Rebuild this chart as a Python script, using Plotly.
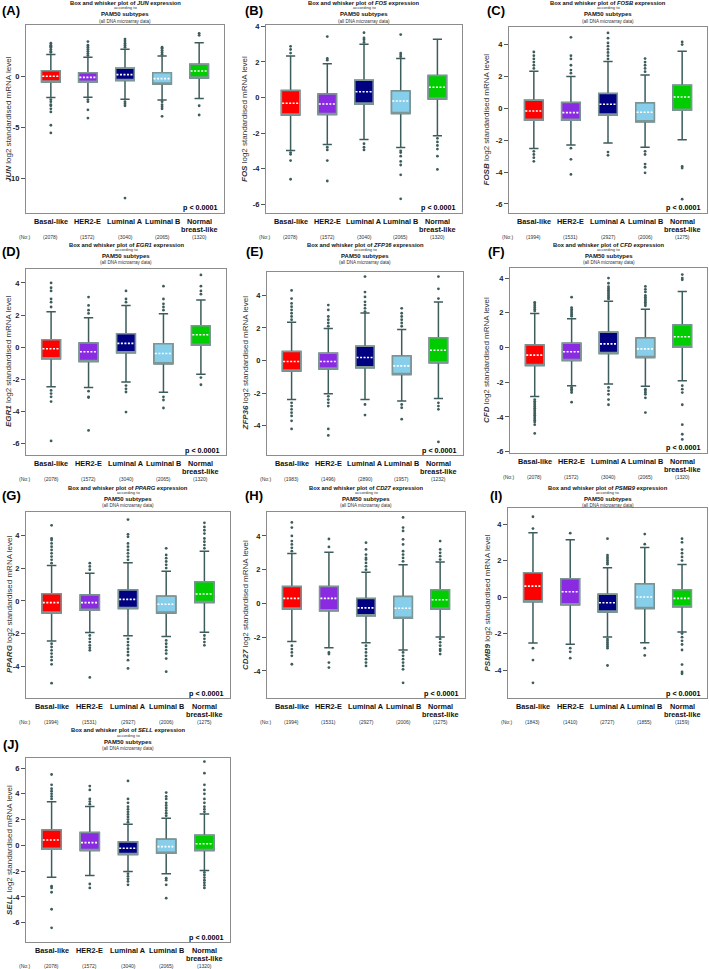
import plotly.graph_objects as go

# ---------------- data ----------------
categories = ["Basal-like", "HER2-E", "Luminal A", "Luminal B", "Normal<br>breast-like"]
genes = ["JUN", "FOS", "FOSB", "EGR1", "ZFP36", "CFD", "PPARG", "CD27", "PSMB9", "SELL"]
panel_letters = ["(A)", "(B)", "(C)", "(D)", "(E)", "(F)", "(G)", "(H)", "(I)", "(J)"]
p_values = ["p < 0.0001"] * 10

counts = {
    "JUN": [2078, 1572, 3040, 2065, 1320],
    "FOS": [2078, 1572, 3040, 2065, 1320],
    "FOSB": [1994, 1531, 2927, 2006, 1275],
    "EGR1": [2078, 1572, 3040, 2065, 1320],
    "ZFP36": [1983, 1496, 2890, 1957, 1232],
    "CFD": [2078, 1572, 3040, 2065, 1320],
    "PPARG": [1994, 1531, 2927, 2006, 1275],
    "CD27": [1994, 1531, 2927, 2006, 1275],
    "PSMB9": [1843, 1410, 2727, 1855, 1159],
    "SELL": [2078, 1572, 3040, 2065, 1320],
}

q1 = {
    "JUN": [-0.58, -0.62, -0.45, -0.78, -0.19],
    "FOS": [-0.99, -0.95, -0.37, -0.90, -0.09],
    "FOSB": [-0.75, -0.75, -0.42, -0.84, -0.13],
    "EGR1": [-0.73, -0.90, -0.35, -1.04, 0.12],
    "ZFP36": [-0.65, -0.53, -0.45, -0.86, -0.14],
    "CFD": [-1.04, -0.75, -0.35, -0.58, 0.02],
    "PPARG": [-0.73, -0.57, -0.46, -0.73, -0.10],
    "CD27": [-0.32, -0.43, -0.73, -0.87, -0.33],
    "PSMB9": [-0.26, -0.42, -0.82, -0.62, -0.53],
    "SELL": [-0.31, -0.39, -0.70, -0.62, -0.39],
}
median = {
    "JUN": [-0.03, -0.13, 0.13, -0.26, 0.49],
    "FOS": [-0.32, -0.37, 0.32, -0.20, 0.58],
    "FOSB": [-0.17, -0.27, 0.25, -0.25, 0.71],
    "EGR1": [-0.10, -0.29, 0.23, -0.40, 0.77],
    "ZFP36": [-0.06, -0.06, 0.18, -0.33, 0.63],
    "CFD": [-0.44, -0.25, 0.21, -0.08, 0.62],
    "PPARG": [-0.10, -0.10, 0.10, -0.20, 0.42],
    "CD27": [0.30, 0.30, -0.26, -0.28, 0.22],
    "PSMB9": [0.60, 0.29, -0.31, 0.00, -0.07],
    "SELL": [0.42, 0.21, -0.23, -0.10, 0.13],
}
q3 = {
    "JUN": [0.52, 0.32, 0.75, 0.32, 1.14],
    "FOS": [0.39, 0.20, 0.97, 0.37, 1.24],
    "FOSB": [0.50, 0.36, 0.92, 0.33, 1.44],
    "EGR1": [0.46, 0.25, 0.83, 0.21, 1.33],
    "ZFP36": [0.55, 0.45, 0.88, 0.27, 1.39],
    "CFD": [0.15, 0.25, 0.88, 0.54, 1.29],
    "PPARG": [0.44, 0.36, 0.67, 0.28, 1.17],
    "CD27": [1.00, 1.00, 0.30, 0.41, 0.81],
    "PSMB9": [1.33, 1.00, 0.16, 0.71, 0.40],
    "SELL": [1.19, 0.99, 0.26, 0.47, 0.78],
}
lower_whisker = {
    "JUN": [-2.10, -2.08, -2.27, -2.34, -2.20],
    "FOS": [-2.98, -2.64, -2.36, -2.81, -2.15],
    "FOSB": [-2.53, -2.30, -2.18, -2.45, -1.97],
    "EGR1": [-2.48, -2.52, -2.17, -2.81, -1.69],
    "ZFP36": [-2.39, -2.04, -2.39, -2.49, -2.33],
    "CFD": [-2.83, -2.21, -2.10, -2.23, -1.92],
    "PPARG": [-2.44, -1.92, -2.12, -2.16, -1.90],
    "CD27": [-2.25, -2.62, -2.33, -2.76, -1.99],
    "PSMB9": [-2.52, -2.59, -2.19, -2.50, -1.92],
    "SELL": [-2.47, -2.34, -2.03, -2.20, -1.95],
}
upper_whisker = {
    "JUN": [2.10, 1.82, 2.60, 1.95, 3.25],
    "FOS": [2.34, 1.90, 3.00, 2.19, 3.28],
    "FOSB": [2.32, 2.00, 2.93, 2.09, 3.58],
    "EGR1": [2.20, 1.83, 2.60, 2.08, 2.94],
    "ZFP36": [2.35, 1.96, 2.92, 1.90, 3.59],
    "CFD": [1.96, 1.65, 2.67, 2.20, 3.23],
    "PPARG": [2.16, 1.68, 2.32, 1.80, 3.03],
    "CD27": [2.96, 3.03, 1.85, 2.29, 2.46],
    "PSMB9": [3.53, 3.14, 1.61, 2.72, 1.79],
    "SELL": [3.38, 3.01, 1.64, 2.10, 2.44],
}
outliers = {
    "JUN": [
        [2.3, 2.4, 2.6, 2.8, 2.9, 3.0, 3.2, -2.3, -2.5, -2.8, -2.9, -3.2, -3.5, -4.8, -5.55],
        [2.0, 2.2, 2.4, 2.6, 2.8, 3.0, 3.35, -2.3, -2.5, -3.3, -4.1],
        [2.8, 3.0, 3.2, 3.4, 3.6, -2.5, -2.7, -2.9, -11.9],
        [2.1, 2.3, 2.5, 2.7, 2.8, -2.5, -2.8, -3.0, -3.2, -3.93],
        [3.96, 4.16, -2.9, -3.8],
    ],
    "FOS": [
        [2.5, 2.7, 2.88, -3.1, -3.2, -3.55, -4.6],
        [2.1, 2.2, 3.43, -2.8, -2.95, -3.55, -4.7],
        [3.1, 3.25, 3.35, 3.65, -2.6, -2.8, -2.95],
        [2.3, 2.4, 2.5, 3.54, -3.0, -3.1, -3.3, -3.6, -3.8, -4.35, -5.7],
        [-2.3, -2.5, -2.7, -2.9, -3.3, -4.05],
    ],
    "FOSB": [
        [2.5, 2.7, 2.9, 3.1, 3.3, 3.53, -2.7, -2.9, -3.1, -3.33],
        [2.2, 2.4, 2.7, 3.1, 3.3, 4.45, -2.5, -3.2, -4.15],
        [3.1, 3.3, 3.5, 3.7, 3.9, 4.1, 4.4, 4.73, -2.75, -2.95],
        [2.3, 2.5, 2.7, 2.9, 3.12, -2.7, -2.9, -3.5, -3.7, -4.05],
        [4.0, 4.16, -3.65, -3.75, -5.7],
    ],
    "EGR1": [
        [2.5, 2.8, 3.0, 3.5, 3.7, 4.0, -2.7, -2.9, -3.1, -3.4, -5.85],
        [2.1, 2.3, 2.6, 3.12, -2.75, -3.1, -3.15, -5.2],
        [2.8, 3.0, 3.5, -2.4, -2.6, -2.8, -4.05],
        [2.3, 2.5, 2.7, 3.0, 3.8, -3.1, -3.3, -3.8],
        [3.3, 3.5, 3.8, 4.5, -1.9, -2.35],
    ],
    "ZFP36": [
        [2.5, 2.7, 2.9, 3.1, 3.3, 3.5, 3.8, 4.3, -2.6, -2.8, -3.0, -3.2, -3.4, -3.7, -4.2],
        [2.1, 2.3, 2.5, 2.7, 3.1, 3.4, -2.2, -2.4, -2.6, -2.8, -4.2, -4.6],
        [3.0, 3.2, 3.4, 3.6, 3.9, 4.2, 5.15, -2.7, -3.35],
        [2.1, 2.3, 2.5, 2.7, 2.9, 3.2, -2.7, -2.9, -3.6],
        [3.8, 4.4, 5.15, -2.6, -2.8, -3.0, -5.0],
    ],
    "CFD": [
        [2.1, 2.2, 2.3, 2.4, 2.5, 2.6, -3.0, -3.1, -3.2, -3.3, -3.4, -3.5, -3.6, -3.7,
         -3.8, -3.9, -4.0, -4.1, -4.2, -4.3, -4.45, -4.95],
        [1.8, 1.9, 2.0, 2.1, 2.2, 2.3, 2.9, -2.3, -2.4, -2.5, -2.6, -3.15],
        [2.8, 2.9, 3.0, 3.1, 3.2, 3.3, 3.4, 3.5, 3.7, 4.0, -2.3, -2.5, -2.7, -3.0, -3.3],
        [2.4, 2.5, 2.6, 2.7, 2.8, 2.9, 3.0, 3.2, 3.35, 3.52, -2.4, -2.5, -2.6, -2.7, -2.9, -3.75],
        [3.9, 4.0, 4.2, -2.2, -2.4, -2.6, -3.3, -4.45, -5.0, -5.3],
    ],
    "PPARG": [
        [2.3, 2.5, 2.7, 2.9, 3.1, 3.3, 3.5, 3.7, 3.8, 4.6, -2.6, -2.8, -3.0, -3.2, -3.4,
         -3.6, -3.85, -5.0],
        [1.9, 2.1, 2.3, -2.1, -2.3, -2.5, -2.7, -2.85, -3.0, -4.65],
        [2.5, 2.7, 2.9, 3.1, 3.3, 3.5, 3.9, 4.05, 4.95, -2.3, -2.5, -2.7, -2.9, -3.1, -3.3,
         -3.6, -4.1],
        [2.0, 2.2, 2.4, 2.6, 2.8, 3.2, -2.4, -2.6, -2.8, -3.0, -3.2, -3.5, -4.3],
        [3.2, 3.4, 3.6, 3.8, 4.1, 4.3, 4.5, 4.75, -2.1, -2.3, -2.5, -2.7],
    ],
    "CD27": [
        [3.1, 3.3, 3.5, 3.7, 4.0, 4.5, 4.8, -2.5, -2.7, -2.9, -3.1, -3.6],
        [3.35, 3.82, -2.9, -3.0, -3.5, -3.8],
        [2.0, 2.2, 2.4, 2.6, 2.7, 2.9, 3.2, 3.6, -2.5, -2.7, -2.9, -3.1, -3.3, -3.5, -3.7],
        [2.5, 2.7, 2.9, 3.1, 3.5, 3.8, 4.3, 4.5, 5.1, -2.9, -3.1, -3.3, -3.5, -3.7, -3.9, -4.7],
        [2.6, 2.8, 3.0, 3.2, 3.7, -2.1, -2.3, -2.5, -2.7, -2.8, -3.0],
    ],
    "PSMB9": [
        [3.75, 4.4, -2.8, -3.45, -4.7],
        [3.5, -2.8, -3.0, -3.35],
        [1.8, 1.9, 2.0, 2.1, 2.2, 2.3, 3.2, -2.3, -2.4, -2.5, -2.6, -2.7, -2.8, -3.75],
        [2.9, 3.45, -2.8, -3.2],
        [2.0, 2.2, 2.4, 2.6, 3.0, 3.2, -2.0, -2.2, -2.4, -2.6, -2.9, -3.7, -4.1, -4.2],
    ],
    "SELL": [
        [3.6, 3.8, 4.0, 4.2, 4.4, 4.7, 5.5, -3.17, -3.3, -3.64, -4.96, -6.4],
        [3.2, 3.4, 3.6, 4.3, 4.6, -3.0, -3.3],
        [1.8, 2.0, 2.2, 2.4, 2.6, 2.8, 3.0, 3.3, 3.6, 5.0, -2.2, -2.4, -2.6, -2.8, -3.06],
        [2.3, 2.5, 2.7, 2.9, 3.1, 3.3, 3.6, 3.8, 4.1, -2.55, -2.7, -3.06, -4.1],
        [2.6, 2.8, 3.0, 3.3, 3.6, 4.0, 4.3, 4.7, 5.6, 6.5, -2.1, -2.3, -2.5, -2.7, -2.9, -3.1, -3.3],
    ],
}

# ---------------- styling / layout ----------------
W, H = 709, 969
FONT = "Liberation Sans, Arial, sans-serif"
box_colors = ["#FF0000", "#8A2BE2", "#000080", "#87CEEB", "#00CD00"]
WHISKER = "#3D5C5C"
BOX_EDGE = "#7E9696"
FRAME = "#8C8C8C"

# frame of each panel in pixels: left, right, top, bottom
frames = [
    (26, 224, 25, 213), (266, 462, 25, 213), (509, 707, 27, 213),
    (26, 226, 269, 455), (267, 463, 272, 455), (510, 707, 268, 453),
    (26, 230, 512, 698), (267, 465, 512, 698), (508, 707, 508, 698),
    (26, 230, 758, 942),
]
yranges = [
    (-13.35, 4.97), (-6.5, 4.08), (-6.57, 5.1), (-6.73, 4.87), (-5.8, 5.43),
    (-6.08, 4.58), (-5.9, 5.41), (-5.6, 5.42), (-5.53, 4.88), (-7.5, 6.78),
]
ydticks = [5, 2, 2, 2, 2, 2, 2, 2, 2, 2]
row_title_y = [3, 244.5, 487.5, 730]
title_offsets = [0, 5, 11.5, 18]
letter_x = [11, 254, 496]
letter_y = [11, 251.7, 495.5, 744.3]
ytitle_x = [9, 245, 486.5]
count_offset = [24.3, 24.0, 24.3, 23.5]
XR = (-0.67, 4.67)


def px(x):
    return x / W


def py(y):
    return 1 - y / H


fig = go.Figure()
axes = {}
annotations = []

for p, gene in enumerate(genes):
    n = p + 1
    sx = "" if n == 1 else str(n)
    xa, ya = "x" + sx, "y" + sx
    L, R, T, B = frames[p]
    row, col = p // 3, p % 3
    lo_r, hi_r = yranges[p]
    d = ydticks[p]
    tv = [v for v in range(int(lo_r // d) * d, int(hi_r) + 1, d) if lo_r <= v <= hi_r]

    axes["xaxis" + sx] = dict(
        domain=[px(L), px(R)], range=list(XR), anchor=ya, showticklabels=False,
        ticks="", showgrid=False, zeroline=False, showline=True, mirror=True,
        linecolor=FRAME, linewidth=1.2, fixedrange=True, automargin=False,
    )
    axes["yaxis" + sx] = dict(
        domain=[py(B), py(T)], range=[lo_r, hi_r], anchor=xa,
        tickmode="array", tickvals=tv, ticktext=[str(v) for v in tv],
        ticks="outside", ticklen=4, tickwidth=1, tickcolor="#555",
        tickfont=dict(family=FONT, size=7.5, color="#222", weight="bold"),
        showgrid=False, zeroline=False, showline=True, mirror=True,
        linecolor=FRAME, linewidth=1.2, fixedrange=True, automargin=False,
    )

    for i in range(5):
        # whiskers + caps
        fig.add_trace(go.Box(
            x=[i], q1=[q1[gene][i]], median=[median[gene][i]], q3=[q3[gene][i]],
            lowerfence=[lower_whisker[gene][i]], upperfence=[upper_whisker[gene][i]],
            width=0.5, whiskerwidth=0.5, fillcolor=box_colors[i],
            line=dict(color=WHISKER, width=1.5), boxpoints=False,
            xaxis=xa, yaxis=ya, showlegend=False, hoverinfo="skip",
        ))
        # box body
        fig.add_trace(go.Box(
            x=[i], q1=[q1[gene][i]], median=[q1[gene][i]], q3=[q3[gene][i]],
            lowerfence=[q1[gene][i]], upperfence=[q3[gene][i]],
            width=0.5, whiskerwidth=0, fillcolor=box_colors[i],
            line=dict(color=BOX_EDGE, width=1.5), boxpoints=False,
            xaxis=xa, yaxis=ya, showlegend=False, hoverinfo="skip",
        ))
        # median: white dashed line
        fig.add_trace(go.Scatter(
            x=[i - 0.23, i + 0.23], y=[median[gene][i]] * 2, mode="lines",
            line=dict(color="white", width=1.6, dash="2px,1.5px"),
            xaxis=xa, yaxis=ya, showlegend=False, hoverinfo="skip",
        ))
        # outliers
        pts = outliers[gene][i]
        fig.add_trace(go.Scatter(
            x=[i] * len(pts), y=pts, mode="markers",
            marker=dict(size=2.8, color=WHISKER),
            xaxis=xa, yaxis=ya, showlegend=False, hoverinfo="skip", cliponaxis=False,
        ))

    # titles above each panel
    ty = row_title_y[row]
    cx = px((L + R) / 2)
    title_lines = [
        (f"<b>Box and whisker plot of <i>{gene}</i> expression</b>", 5.8, "#111"),
        ("according to", 4.2, "#333"),
        ("<b>PAM50 subtypes</b>", 6.0, "#111"),
        ("(all DNA microarray data)", 4.6, "#333"),
    ]
    for (txt, sz, colr), off in zip(title_lines, title_offsets):
        annotations.append(dict(
            x=cx, y=py(ty + off), xref="paper", yref="paper", text=txt,
            showarrow=False, xanchor="center", yanchor="middle",
            font=dict(family=FONT, size=sz, color=colr),
        ))
    # panel letter
    annotations.append(dict(
        x=px(letter_x[col]), y=py(letter_y[row]), xref="paper", yref="paper",
        text=f"<b>{panel_letters[p]}</b>", showarrow=False, xanchor="center",
        yanchor="middle", font=dict(family=FONT, size=13, color="#000"),
    ))
    # y-axis title
    annotations.append(dict(
        x=px(ytitle_x[col]), y=py((T + B) / 2), xref="paper", yref="paper",
        text=f"<b><i>{gene}</i></b> log2 standardised mRNA level", textangle=-90,
        showarrow=False, xanchor="center", yanchor="middle",
        font=dict(family=FONT, size=8, color="#333"),
    ))
    # p-value
    annotations.append(dict(
        x=px(R - 4), y=py(B - 5), xref="paper", yref="paper",
        text="<b>" + p_values[p].replace("<", "&lt;") + "</b>", showarrow=False,
        xanchor="right", yanchor="middle", font=dict(family=FONT, size=7.2, color="#000"),
    ))
    # category labels and counts
    for i, cat in enumerate(categories):
        for k, line in enumerate(cat.split("<br>")):
            annotations.append(dict(
                x=i, y=py(B + 8 + 8.3 * k), xref=xa, yref="paper",
                text=f"<b>{line}</b>", showarrow=False, xanchor="center",
                yanchor="middle", font=dict(family=FONT, size=7.3, color="#111"),
            ))
        annotations.append(dict(
            x=i, y=py(B + count_offset[row]), xref=xa, yref="paper",
            text=f"({counts[gene][i]})", showarrow=False, xanchor="center",
            yanchor="middle", font=dict(family=FONT, size=5, color="#333"),
        ))
    annotations.append(dict(
        x=px(L - 2), y=py(B + count_offset[row]), xref="paper", yref="paper",
        text="(No:)", showarrow=False, xanchor="center", yanchor="middle",
        font=dict(family=FONT, size=5, color="#333"),
    ))

fig.update_layout(
    width=W, height=H, margin=dict(l=0, r=0, t=0, b=0, autoexpand=False),
    paper_bgcolor="white", plot_bgcolor="white", showlegend=False,
    boxmode="overlay", annotations=annotations, **axes,
)

fig.write_html(
    "out.html",
    config={"displayModeBar": False},
    post_script="document.body.style.margin='0';document.body.style.overflow='hidden';",
)
